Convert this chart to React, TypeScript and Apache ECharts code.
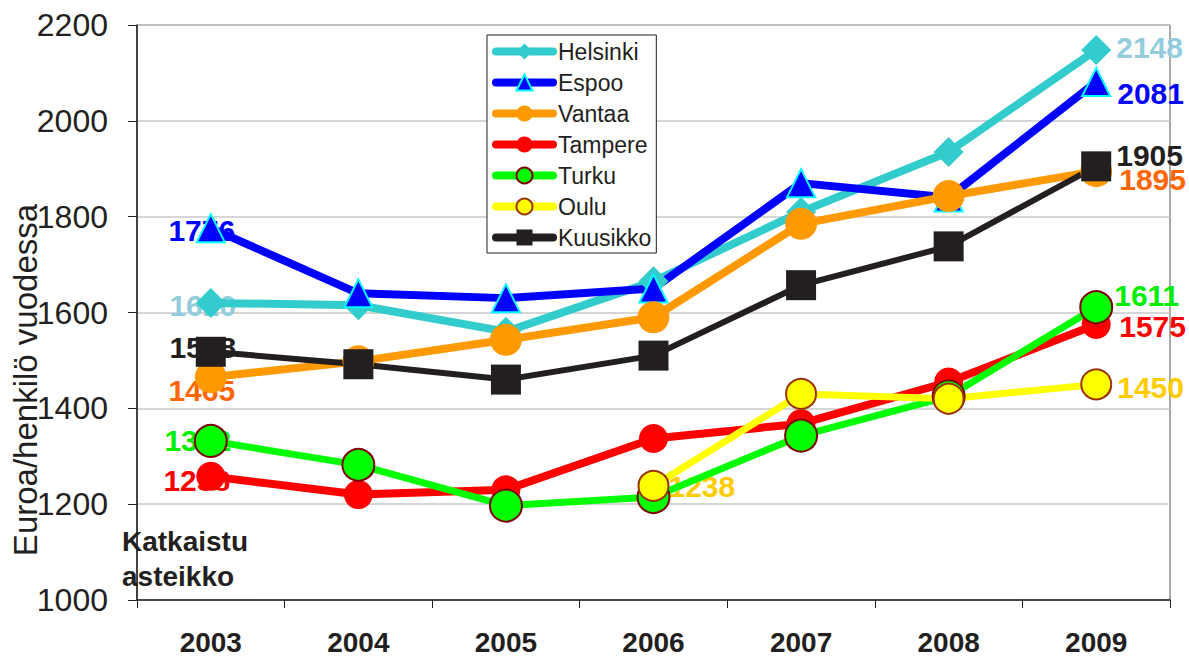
import React, { useEffect, useRef } from "react";
import * as echarts from "echarts";

const years = ["2003", "2004", "2005", "2006", "2007", "2008", "2009"];
const helsinki = [1620, 1615, 1560, 1665, 1810, 1935, 2148];
const espoo = [1776, 1640, 1630, 1650, 1870, 1840, 2081];
const vantaa = [1465, 1498, 1543, 1590, 1785, 1843, 1895];
const tampere = [1258, 1220, 1230, 1337, 1368, 1455, 1575];
const turku = [1332, 1282, 1197, 1215, 1343, 1425, 1611];
const oulu = [null, null, null, 1238, 1430, 1420, 1450];
const kuusikko = [1518, 1492, 1460, 1510, 1657, 1738, 1905];
const yMin = 1000;
const yMax = 2200;
const yStep = 200;

const FONT = "'Liberation Sans', Arial, sans-serif";

type Spot = { i: number; dx: number; dy: number; align: string };

const cities = [
  {
    name: "Helsinki", values: helsinki, color: "#33cccc", labelColor: "#93cddd",
    symbol: "diamond", size: 30, width: 8, border: "#33cccc", borderWidth: 0,
    spots: [{ i: 0, dx: -8, dy: 3, align: "center" }, { i: 6, dx: 20, dy: -2, align: "left" }] as Spot[],
  },
  {
    name: "Espoo", values: espoo, color: "#0000ff", labelColor: "#0000ff",
    symbol: "triangle", size: 28, width: 8, border: "#00ffff", borderWidth: 2,
    spots: [{ i: 0, dx: -9, dy: 2, align: "center" }, { i: 6, dx: 21, dy: 11, align: "left" }] as Spot[],
  },
  {
    name: "Vantaa", values: vantaa, color: "#ff9900", labelColor: "#ff6600",
    symbol: "circle", size: 32, width: 8, border: "#ff9900", borderWidth: 0,
    spots: [{ i: 0, dx: -9, dy: 13, align: "center" }, { i: 6, dx: 23, dy: 8, align: "left" }] as Spot[],
  },
  {
    name: "Tampere", values: tampere, color: "#ff0000", labelColor: "#ff0000",
    symbol: "circle", size: 29, width: 8, border: "#ff0000", borderWidth: 0,
    spots: [{ i: 0, dx: -14, dy: 4, align: "center" }, { i: 6, dx: 23, dy: 2, align: "left" }] as Spot[],
  },
  {
    name: "Turku", values: turku, color: "#00ff00", labelColor: "#00ee00",
    symbol: "circle", size: 32, width: 7, border: "#800000", borderWidth: 2,
    spots: [{ i: 0, dx: -13, dy: 0, align: "center" }, { i: 6, dx: 18, dy: -12, align: "left" }] as Spot[],
  },
  {
    name: "Oulu", values: oulu, color: "#ffff00", labelColor: "#ffcc00",
    symbol: "circle", size: 30, width: 7, border: "#993300", borderWidth: 2,
    spots: [{ i: 3, dx: 15, dy: 1, align: "left" }, { i: 6, dx: 21, dy: 3, align: "left" }] as Spot[],
  },
  {
    name: "Kuusikko", values: kuusikko, color: "#231f20", labelColor: "#231f20",
    symbol: "rect", size: 30, width: 6, border: "#231f20", borderWidth: 0,
    spots: [{ i: 0, dx: -8, dy: -4, align: "center" }, { i: 6, dx: 20, dy: -11, align: "left" }] as Spot[],
  },
];

export default function App() {
  const ref = useRef<HTMLDivElement>(null);
  useEffect(() => {
    if (!ref.current) return;
    const chart = echarts.init(ref.current, null, { renderer: "svg" });

    const lineSeries = cities.map((c) => ({
      name: c.name,
      type: "line",
      z: 3,
      data: c.values,
      connectNulls: false,
      symbol: c.symbol,
      symbolSize: c.size,
      showSymbol: true,
      lineStyle: { color: c.color, width: c.width, cap: "round", join: "round" },
      itemStyle: { color: c.color, borderColor: c.border, borderWidth: c.borderWidth, opacity: 1 },
      emphasis: { disabled: true },
    }));

    const labelSeries = cities.map((c) => ({
      type: "scatter",
      z: 2,
      silent: true,
      symbolSize: 0,
      itemStyle: { opacity: 1 },
      data: c.spots.map((s) => ({
        value: [s.i, c.values[s.i]],
        label: {
          show: true,
          position: "inside",
          align: s.align,
          verticalAlign: "middle",
          offset: [s.dx, s.dy],
          formatter: String(c.values[s.i]),
          color: c.labelColor,
          opacity: 1,
          fontSize: 30,
          fontWeight: "bold",
          fontFamily: FONT,
        },
      })),
    }));

    chart.setOption({
      animation: false,
      backgroundColor: "#ffffff",
      grid: {
        left: 137, right: 19, top: 25, bottom: 56,
        show: true, borderColor: "#555555", borderWidth: 1, backgroundColor: "transparent",
      },
      legend: {
        data: cities.map((c) => c.name),
        orient: "vertical",
        left: 487,
        top: 35,
        padding: [5, 5, 4, 5],
        itemWidth: 57,
        itemHeight: 20,
        itemGap: 8,
        backgroundColor: "#ffffff",
        borderColor: "#231f20",
        borderWidth: 1,
        lineStyle: { width: 8, cap: "round" },
        textStyle: { fontSize: 23, fontFamily: FONT, color: "#231f20" },
        selectedMode: false,
      },
      xAxis: {
        type: "category",
        data: years,
        boundaryGap: true,
        axisLine: { show: true, lineStyle: { color: "#231f20", width: 1.5 } },
        axisTick: { show: true, length: 8, inside: false, lineStyle: { color: "#231f20" } },
        axisLabel: { margin: 28, fontSize: 28, fontWeight: "bold", fontFamily: FONT, color: "#231f20" },
        splitLine: { show: false },
      },
      yAxis: {
        type: "value",
        min: yMin,
        max: yMax,
        interval: yStep,
        axisLine: { show: true, lineStyle: { color: "#231f20", width: 1.5 } },
        axisTick: { show: true, length: 9, inside: false, lineStyle: { color: "#231f20" } },
        axisLabel: {
          margin: 29, fontSize: 32, fontFamily: FONT, color: "#231f20",
          formatter: (v: number) => String(v),
        },
        splitLine: { show: true, lineStyle: { color: "#c8c8c8", width: 1.5 } },
      },
      graphic: [
        {
          type: "text",
          x: 25,
          y: 380,
          rotation: Math.PI / 2,
          style: {
            text: "Euroa/henkilö vuodessa",
            fontSize: 33,
            fontFamily: FONT,
            fill: "#231f20",
            align: "center",
            verticalAlign: "middle",
          },
        },
        {
          type: "text",
          left: 122,
          top: 524,
          style: {
            text: "Katkaistu\nasteikko",
            fontSize: 28,
            fontWeight: "bold",
            lineHeight: 35,
            fontFamily: FONT,
            fill: "#231f20",
          },
        },
      ],
      series: [...labelSeries, ...lineSeries],
    });
    return () => chart.dispose();
  }, []);
  return <div ref={ref} style={{ position: "fixed", left: 0, top: 0, width: 1189, height: 656 }} />;
}
